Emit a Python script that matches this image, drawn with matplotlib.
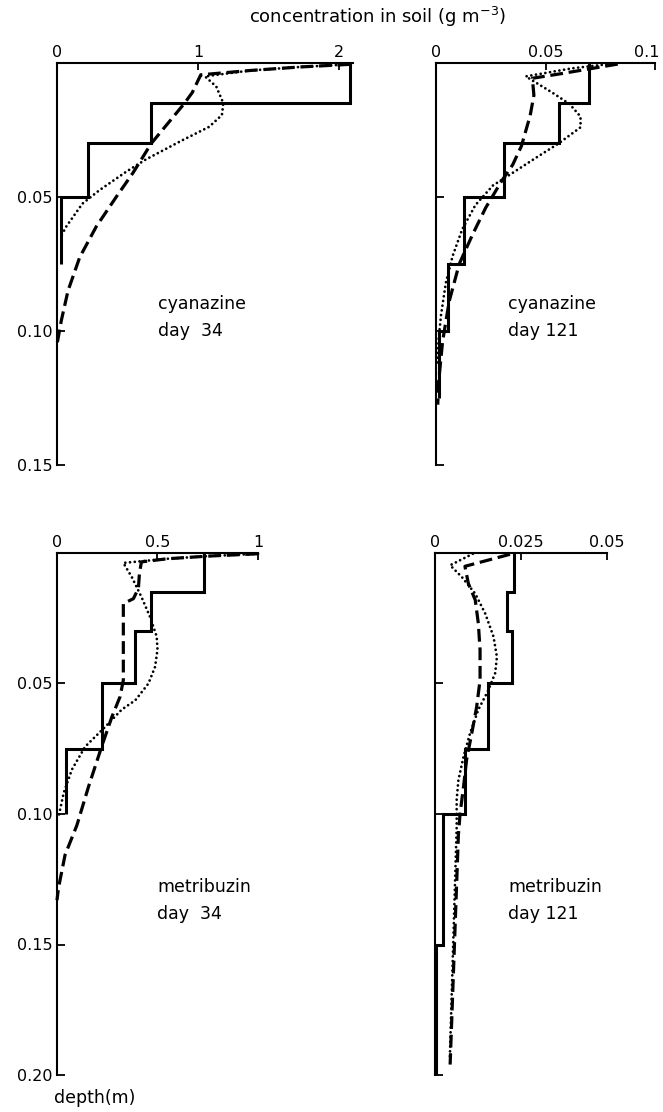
import matplotlib
matplotlib.use("Agg")
import matplotlib.pyplot as plt
import matplotlib.transforms as mtransforms

plt.rcParams['font.family'] = ['DejaVu Sans']

# ---- cyanazine, day 34 ----
cy34_edges = [0, 0.015, 0.03, 0.05, 0.075]
cy34_meas = [2.08, 0.67, 0.22, 0.025]
cy34_a_conc = [2.08, 1.72, 1.37, 1.02, 0.96, 0.905, 0.669, 0.539, 0.42, 0.279, 0.161, 0.078, 0.031, 0.0]
cy34_a_depth = [0.0005, 0.0015, 0.0028, 0.0044, 0.011, 0.015, 0.030, 0.041, 0.050, 0.061, 0.0725, 0.085, 0.096, 0.105]
cy34_b_conc = [2.08, 1.72, 1.37, 1.05, 1.13, 1.18, 1.17, 1.08, 0.89, 0.63, 0.49, 0.30, 0.18, 0.066, 0.03]
cy34_b_depth = [0.0005, 0.0015, 0.0028, 0.005, 0.0088, 0.015, 0.0194, 0.0238, 0.0288, 0.036, 0.0406, 0.0475, 0.0525, 0.061, 0.0645]

# ---- cyanazine, day 121 ----
cy121_edges = [0, 0.015, 0.03, 0.05, 0.075, 0.10, 0.125]
cy121_meas = [0.070, 0.056, 0.031, 0.0126, 0.0053, 0.0015]
cy121_a_conc = [0.083, 0.070, 0.057, 0.044, 0.0447, 0.043, 0.039, 0.035, 0.030, 0.0227, 0.0167, 0.0106, 0.006, 0.003, 0.0012, 0.0008]
cy121_a_depth = [0.0004, 0.0022, 0.004, 0.0057, 0.012, 0.0196, 0.031, 0.038, 0.044, 0.054, 0.064, 0.075, 0.089, 0.104, 0.119, 0.1275]
cy121_b_conc = [0.080, 0.062, 0.041, 0.053, 0.061, 0.066, 0.066, 0.056, 0.045, 0.035, 0.026, 0.018, 0.012, 0.0076, 0.0045, 0.0023, 0.0012, 0.0005]
cy121_b_depth = [0.0003, 0.002, 0.005, 0.011, 0.0153, 0.020, 0.024, 0.030, 0.0357, 0.041, 0.0457, 0.053, 0.062, 0.072, 0.082, 0.094, 0.103, 0.113]

# ---- metribuzin, day 34 ----
mb34_edges = [0, 0.015, 0.03, 0.05, 0.075, 0.10]
mb34_meas = [0.73, 0.468, 0.388, 0.226, 0.045]
mb34_a_conc = [1.0, 0.75, 0.55, 0.42, 0.41, 0.405, 0.38, 0.33, 0.33, 0.33, 0.314, 0.273, 0.223, 0.157, 0.099, 0.04, 0.007, 0.0]
mb34_a_depth = [0.0003, 0.0012, 0.0022, 0.0034, 0.0079, 0.0136, 0.0175, 0.0194, 0.030, 0.0487, 0.055, 0.0628, 0.074, 0.0895, 0.1043, 0.1157, 0.1285, 0.133]
mb34_b_conc = [1.0, 0.75, 0.55, 0.33, 0.372, 0.42, 0.463, 0.496, 0.50, 0.488, 0.455, 0.39, 0.322, 0.24, 0.14, 0.074, 0.033, 0.008]
mb34_b_depth = [0.0003, 0.0012, 0.0022, 0.0038, 0.0092, 0.0168, 0.0245, 0.032, 0.037, 0.0436, 0.050, 0.0564, 0.060, 0.0666, 0.0742, 0.083, 0.092, 0.101]

# ---- metribuzin, day 121 ----
mb121_edges = [0, 0.015, 0.03, 0.05, 0.075, 0.10, 0.15, 0.20]
mb121_meas = [0.0231, 0.0209, 0.0225, 0.0155, 0.0087, 0.0024, 0.0004]
mb121_a_conc = [0.0218, 0.0087, 0.0097, 0.0117, 0.0126, 0.0131, 0.0131, 0.0121, 0.0107, 0.0092, 0.0083, 0.0073, 0.0068, 0.0044]
mb121_a_depth = [0.0005, 0.0051, 0.0117, 0.018, 0.027, 0.0372, 0.0487, 0.059, 0.069, 0.079, 0.0895, 0.0997, 0.108, 0.196]
mb121_b_conc = [0.011, 0.0044, 0.0078, 0.0117, 0.0146, 0.017, 0.018, 0.0175, 0.0155, 0.0126, 0.0102, 0.0083, 0.0068, 0.0063, 0.0063, 0.0043]
mb121_b_depth = [0.0003, 0.0047, 0.0092, 0.0156, 0.0232, 0.032, 0.0398, 0.046, 0.0526, 0.060, 0.069, 0.078, 0.087, 0.0946, 0.105, 0.194]

W, H = 663, 1112
fig = plt.figure(figsize=(W / 100, H / 100), dpi=100)

TICK_FS = 11.5
NOTE_FS = 12.5


def px_axes(left, top, right, bottom):
    return fig.add_axes([left / W, 1 - bottom / H, (right - left) / W, (bottom - top) / H])


def panel(ax, edges, meas, a_c, a_d, b_c, b_d, xlim, xticks, xlabels,
          ylim, yticks, ylabels, name, day, tx, ty):
    ax.stairs(meas, edges, orientation='horizontal', baseline=None,
              color='black', lw=2.2, clip_on=False, zorder=3)
    ax.plot(a_c, a_d, color='black', lw=2.3, dashes=(4, 1.8), clip_on=False, zorder=2)
    ax.plot(b_c, b_d, color='black', lw=2.0, dashes=(0.01, 1.7),
            dash_capstyle='round', clip_on=False, zorder=2)
    ax.set_xlim(*xlim)
    ax.set_ylim(ylim, 0)
    for s in ('right', 'bottom'):
        ax.spines[s].set_visible(False)
    for s in ('left', 'top'):
        ax.spines[s].set_linewidth(1.5)
    ax.xaxis.tick_top()
    ax.set_xticks(xticks)
    ax.set_xticklabels(xlabels)
    ax.set_yticks(yticks)
    ax.set_yticklabels(ylabels)
    ax.tick_params(axis='x', direction='in', length=5, width=1.3, pad=2, labelsize=TICK_FS)
    ax.tick_params(axis='y', direction='in', length=6, width=1.3, pad=3, labelsize=TICK_FS)
    ax.text(tx, ty, name, transform=ax.transAxes, fontsize=NOTE_FS, va='center', ha='left')
    ax.text(tx, ty - 0.066 * (0.3615 / ax.get_position().height), day,
            transform=ax.transAxes, fontsize=NOTE_FS, va='center', ha='left')


ax1 = px_axes(57, 63, 353, 465)
panel(ax1, cy34_edges, cy34_meas, cy34_a_conc, cy34_a_depth, cy34_b_conc, cy34_b_depth,
      (0, 2.1), [0, 1, 2], ['0', '1', '2'],
      0.15, [0.05, 0.10, 0.15], ['0.05', '0.10', '0.15'],
      'cyanazine', 'day  34', 0.34, 0.40)

ax2 = px_axes(436, 63, 655, 465)
panel(ax2, cy121_edges, cy121_meas, cy121_a_conc, cy121_a_depth, cy121_b_conc, cy121_b_depth,
      (0, 0.1), [0, 0.05, 0.1], ['0', '0.05', '0.1'],
      0.15, [0.05, 0.10, 0.15], ['', '', ''],
      'cyanazine', 'day 121', 0.33, 0.40)
# keep the last top label inside the figure edge
last = ax2.get_xticklabels()[-1]
last.set_transform(last.get_transform() + mtransforms.ScaledTranslation(-8 / 100, 0, fig.dpi_scale_trans))

ax3 = px_axes(57, 553, 258, 1075)
panel(ax3, mb34_edges, mb34_meas, mb34_a_conc, mb34_a_depth, mb34_b_conc, mb34_b_depth,
      (0, 1.0), [0, 0.5, 1], ['0', '0.5', '1'],
      0.20, [0.05, 0.10, 0.15, 0.20], ['0.05', '0.10', '0.15', '0.20'],
      'metribuzin', 'day  34', 0.50, 0.36)

ax4 = px_axes(435, 553, 607, 1075)
panel(ax4, mb121_edges, mb121_meas, mb121_a_conc, mb121_a_depth, mb121_b_conc, mb121_b_depth,
      (0, 0.05), [0, 0.025, 0.05], ['0', '0.025', '0.05'],
      0.20, [0.05, 0.10, 0.15, 0.20], ['', '', '', ''],
      'metribuzin', 'day 121', 0.425, 0.36)

fig.text(378 / W, 1 - 17 / H, 'concentration in soil (g m$^{-3}$)', fontsize=13,
         ha='center', va='center')
fig.text(95 / W, 1 - 1098 / H, 'depth(m)', fontsize=12.5, ha='center', va='center')

fig.savefig('out.png', dpi=100, facecolor='white')
